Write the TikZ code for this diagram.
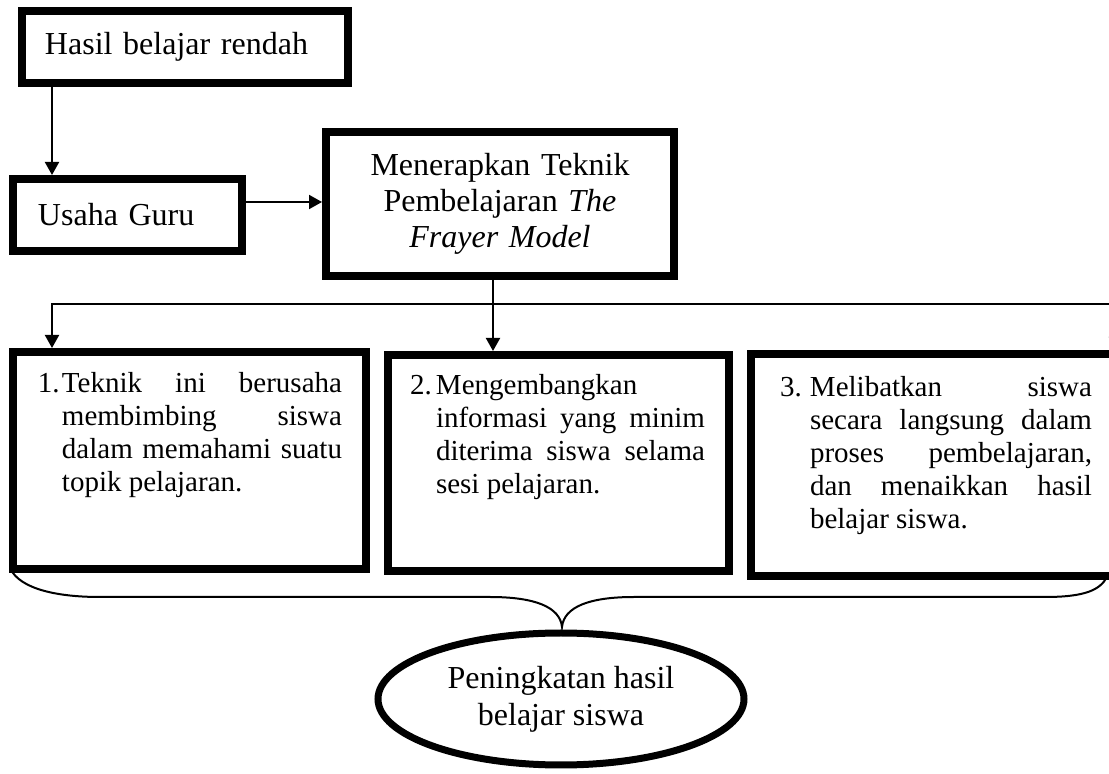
\documentclass[tikz,border=0pt]{standalone}
\usepackage{fontspec}
\setmainfont{Liberation Serif}
\usetikzlibrary{arrows.meta,calc,shapes.geometric}
% #1 height, #2 width, #3 top pad, #4 left pad, #5 right pad, #6 label width, #7 label, #8 text
\newcommand\listpara[8]{\parbox[c][#1][t]{#2}{\fontsize{14.5}{16.5}\selectfont
  \vspace*{#3}\leftskip=#4\relax\rightskip=#5\relax
  \hangindent=#6\relax\hangafter=1\relax\tolerance=10000\relax\hyphenpenalty=10000\relax
  \parindent=0pt\noindent\strut\makebox[#6][l]{#7}#8\par}}
\begin{document}
\begin{tikzpicture}[x=0.5pt,y=-0.5pt,
  thickbox/.style={draw, line width=4pt, inner sep=0pt, rectangle},
  conn/.style={line width=1pt},
  arr/.style={conn, -{Triangle[length=6.5pt,width=7pt]}},
  topfont/.style={font=\fontsize{16}{18}\selectfont},
]
\useasboundingbox (0,0) rectangle (1109,774);
\fill[white] (0,0) rectangle (1109,774);

\node[thickbox, topfont, minimum width=163pt, minimum height=36pt,
      inner xsep=11.5pt, text width=140pt, align=left] (hasil) at (185,47) {Hasil belajar rendah};
\node[thickbox, topfont, minimum width=114.5pt, minimum height=36pt,
      inner xsep=12.5pt, text width=89.5pt, align=left] (usaha) at (127.5,215) {Usaha Guru};
\node[thickbox, topfont, minimum width=174pt, minimum height=72pt,
      text width=170pt, align=center] (menerapkan) at (500,204)
      {Menerapkan Teknik\\Pembelajaran \textit{The}\\\textit{Frayer Model}};

\node[thickbox] (boxa) at (189.5,460.5)
  {\listpara{108.5pt}{176.5pt}{8.95pt}{12.5pt}{12pt}{12pt}{1.}{Teknik ini berusaha\linebreak membimbing siswa\linebreak dalam memahami suatu\linebreak topik pelajaran.}};
\node[thickbox] (boxb) at (558.25,463)
  {\listpara{108pt}{170.75pt}{8.45pt}{11.25pt}{12pt}{13pt}{2.}{Mengembangkan\linebreak informasi yang minim\linebreak diterima siswa selama\linebreak sesi pelajaran.}};
\node[thickbox] (boxc) at (932.5,465)
  {\listpara{111pt}{181.5pt}{9.95pt}{14.5pt}{11pt}{15pt}{3.}{Melibatkan siswa\linebreak secara langsung dalam\linebreak proses pembelajaran,\linebreak dan menaikkan hasil\linebreak belajar siswa.}};

\node[draw, ellipse, line width=3.5pt, inner sep=0pt, minimum width=183pt, minimum height=66pt,
      align=center, font=\fontsize{16}{18.5}\selectfont] (hasilakhir) at (561,699)
      {Peningkatan hasil\\belajar siswa};

\coordinate (xa) at (52,0);
\coordinate (xb) at (493,0);
\coordinate (xc) at (1116,0);
\coordinate (yu) at (0,202);
\coordinate (ybus) at (0,304);

\draw[arr] (xa |- hasil.south) -- (xa |- usaha.north);
\draw[arr] (usaha.east |- yu) -- (menerapkan.west |- yu);
\draw[arr] (xb |- menerapkan.south) -- (xb |- boxb.north);
\draw[arr] (xb |- ybus) -- (xa |- ybus) -- (xa |- boxa.north);
\draw[arr] (xb |- ybus) -- (xc |- ybus) -- (xc |- boxc.north);

\draw[conn] (10,568) .. controls (20,590) and (60,597) .. (100,597) -- (490,597)
  .. controls (535,597) and (560,607) .. (562,627)
  .. controls (564,607) and (589,597) .. (634,597) -- (1045,597)
  .. controls (1085,597) and (1100,590) .. (1107,577);
\end{tikzpicture}
\end{document}
